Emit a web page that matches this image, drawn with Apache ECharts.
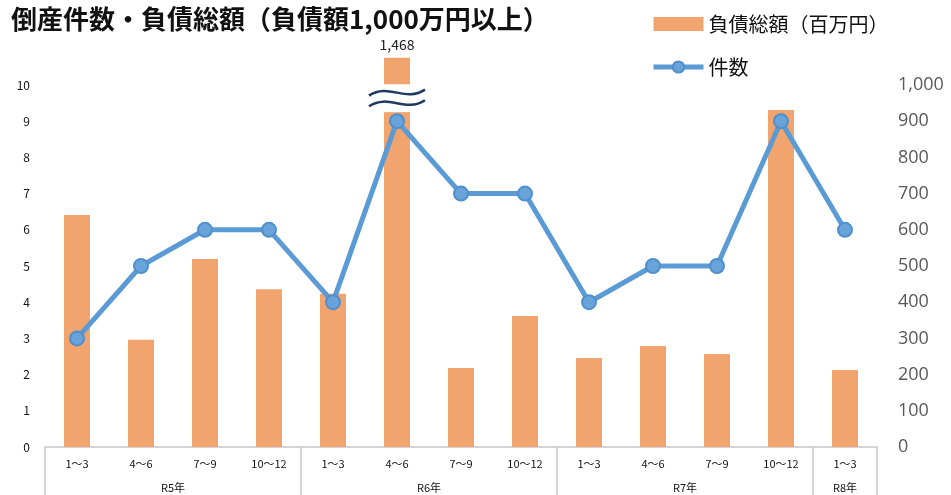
<!DOCTYPE html>
<html>
<head>
<meta charset="utf-8">
<script src="https://cdn.jsdelivr.net/npm/echarts@6/dist/echarts.min.js"></script>
<style>
	html, body { margin: 0; padding: 0; background: #fff; }
	#main { width: 951px; height: 495px; }
</style>
</head>
<body>
<div id="main"></div>
<script>
// 四半期ラベルと年ラベル
var quarters = ['1～3', '4～6', '7～9', '10～12', '1～3', '4～6', '7～9', '10～12', '1～3', '4～6', '7～9', '10～12', '1～3'];
var years = ['R5年', 'R6年', 'R7年', 'R8年'];
var yearSpan = [4, 4, 4, 1];

// 負債総額(百万円)
var debt = [641, 296, 519, 436, 423, 1468, 218, 362, 246, 279, 257, 931, 213];
// 件数
var counts = [3, 5, 6, 6, 4, 9, 7, 7, 4, 5, 5, 9, 6];

var leftTicks = [0, 10, 1];
var rightTicks = [0, 1000, 100];

var FONT = '"Noto Sans CJK JP", "Noto Sans", sans-serif';
var CAP_DRAW = 1075;      // 省略表示する棒の描画上限
var BREAK_FROM = 925, BREAK_TO = 1002;

var myChart = echarts.init(document.getElementById('main'));

// 年グループの境界と中央
var bounds = [0], centers = [];
(function(){
	var acc = 0;
	yearSpan.forEach(function(n){
		centers.push(acc + n / 2);
		acc += n;
		bounds.push(acc);
	});
})();

var barData = debt.map(function(v){
	if (v > rightTicks[1]) {
		return {
			value: CAP_DRAW,
			label: {
				show: true,
				position: 'top',
				distance: 6,
				formatter: v.toLocaleString('en-US'),
				fontSize: 14,
				color: '#222',
				fontFamily: FONT
			}
		};
	}
	return v;
});

var breakIdx = [];
debt.forEach(function(v, i){ if (v > rightTicks[1]) breakIdx.push([i]); });

function wave(x, yc){
	return {
		type: 'bezierCurve',
		shape: {
			x1: x - 28, y1: yc + 3,
			cpx1: x - 8, cpy1: yc - 10,
			cpx2: x + 8, cpy2: yc + 10,
			x2: x + 28, y2: yc - 3
		},
		style: { stroke: '#1f3864', lineWidth: 2.5, fill: null }
	};
}

var option = {
	animation: false,
	title: {
		text: '倒産件数・負債総額（負債額1,000万円以上）',
		left: 6,
		top: 1,
		textStyle: { fontSize: 26, fontWeight: 'bold', color: '#111', fontFamily: FONT }
	},
	legend: {
		orient: 'vertical',
		left: 646,
		top: 8,
		itemGap: 21,
		itemWidth: 50,
		itemHeight: 14,
		data: [
			{ name: '負債総額（百万円）', icon: 'rect' },
			{ name: '件数', lineStyle: { width: 5 } }
		],
		textStyle: { fontSize: 20, color: '#111', fontFamily: FONT, lineHeight: 22 }
	},
	grid: { left: 45, right: 74, top: 85, bottom: 48 },
	xAxis: [
		{
			type: 'category',
			data: quarters,
			axisLine: { lineStyle: { color: '#c8c8c8', width: 1.5 } },
			axisTick: { show: false },
			axisLabel: { interval: 0, margin: 11, fontSize: 11, color: '#111', fontFamily: FONT }
		},
		{
			type: 'value',
			position: 'bottom',
			min: 0,
			max: quarters.length,
			axisLine: { show: false },
			splitLine: { show: false },
			axisTick: {
				show: true,
				customValues: bounds,
				length: 50,
				lineStyle: { color: '#c8c8c8', width: 1.5 }
			},
			axisLabel: {
				customValues: centers,
				margin: 35,
				fontSize: 11,
				color: '#111',
				fontFamily: FONT,
				formatter: function(v){
					var i = centers.indexOf(v);
					return i >= 0 ? years[i] : '';
				}
			}
		}
	],
	yAxis: [
		{
			type: 'value',
			min: leftTicks[0],
			max: leftTicks[1],
			interval: leftTicks[2],
			axisLine: { show: false },
			axisTick: { show: false },
			splitLine: { show: false },
			axisLabel: { margin: 15, fontSize: 12, color: '#111', fontFamily: FONT }
		},
		{
			type: 'value',
			min: rightTicks[0],
			max: rightTicks[1],
			interval: rightTicks[2],
			axisLine: { show: false },
			axisTick: { show: false },
			splitLine: { show: false },
			axisLabel: {
				margin: 21,
				fontSize: 18,
				color: '#595959',
				fontFamily: '"Open Sans", "Noto Sans", sans-serif',
				formatter: function(v){ return v.toLocaleString('en-US'); }
			}
		}
	],
	series: [
		{
			name: '負債総額（百万円）',
			type: 'bar',
			yAxisIndex: 1,
			barWidth: 26,
			clip: false,
			data: barData,
			itemStyle: { color: '#f2a46e' },
			z: 2
		},
		{
			name: 'break',
			type: 'custom',
			yAxisIndex: 1,
			data: breakIdx,
			z: 3,
			renderItem: function(params, api){
				var idx = api.value(0);
				var top = api.coord([idx, BREAK_TO]);
				var bot = api.coord([idx, BREAK_FROM]);
				var x = top[0];
				var h = bot[1] - top[1];
				return {
					type: 'group',
					children: [
						{ type: 'rect', shape: { x: x - 16, y: top[1], width: 32, height: h }, style: { fill: '#fff' } },
						wave(x, top[1] + h * 0.3),
						wave(x, top[1] + h * 0.68)
					]
				};
			}
		},
		{
			name: '件数',
			type: 'line',
			yAxisIndex: 0,
			data: counts,
			symbol: 'circle',
			symbolSize: 14,
			lineStyle: { color: '#5b9bd5', width: 5 },
			itemStyle: { color: '#68a3da', borderColor: '#4f8fcc', borderWidth: 2 },
			z: 4
		}
	]
};

myChart.setOption(option);
</script>
</body>
</html>
